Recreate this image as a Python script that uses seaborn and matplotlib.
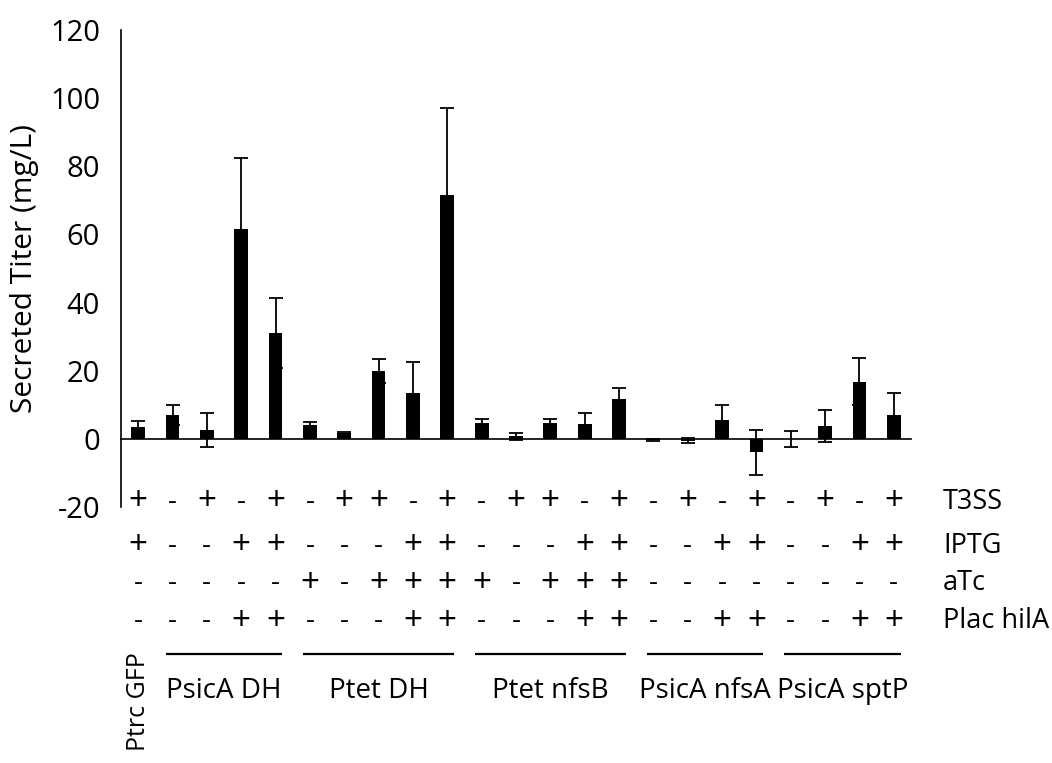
import matplotlib
matplotlib.use("Agg")
import matplotlib.pyplot as plt
import matplotlib.transforms as mtrans
import seaborn as sns
import pandas as pd
import numpy as np

# ---- data ----
values = [3.5, 7.0, 2.6, 61.5, 31.0,
          4.2, 1.6, 20.0, 13.5, 71.5,
          4.7, 0.7, 4.7, 4.5, 11.8,
          -0.3, -0.5, 5.5, -4.0,
          0.0, 3.8, 16.8, 7.0]
errors = [1.8, 3.0, 5.0, 21.0, 10.3,
          0.8, 0.3, 3.5, 9.0, 25.5,
          1.2, 1.0, 1.2, 3.0, 3.0,
          0.2, 0.7, 4.5, 6.5,
          2.3, 4.7, 7.0, 6.5]
t3ss = list("+-+-+-++-+-++-+-+-+-+-+")
iptg = list("+--++---++---++--++--++")
atc = list("-----+-++++-+++--------")
plac = list("---++---++---++--++--++")
row_labels = ["T3SS", "IPTG", "aTc", "Plac hilA"]
groups = ["PsicA DH", "Ptet DH", "Ptet nfsB", "PsicA nfsA", "PsicA sptP"]
group_first = [1, 5, 10, 15, 19]
group_last = [4, 9, 14, 18, 22]
single_label = "Ptrc GFP"
yticks = [-20, 0, 20, 40, 60, 80, 100, 120]

df = pd.DataFrame({"cond": list(range(len(values))), "titer": values, "err": errors})

sns.set_style("white")
FONT = ["Open Sans", "DejaVu Sans"]
plt.rcParams["font.family"] = FONT
plt.rcParams["text.color"] = "black"
plt.rcParams["axes.labelcolor"] = "black"
plt.rcParams["xtick.color"] = "black"
plt.rcParams["ytick.color"] = "black"

fig = plt.figure(figsize=(10.52, 7.63), dpi=100)
ax = fig.add_axes([121 / 1052, 1 - 507 / 763, (911 - 121) / 1052, (507 - 30) / 763])

sns.barplot(data=df, x="cond", y="titer", color="black", width=0.4,
            saturation=1, errorbar=None, ax=ax, edgecolor="black", linewidth=0)
ax.errorbar(df["cond"], df["titer"], yerr=df["err"], fmt="none",
            ecolor="black", elinewidth=1.3, capsize=4.7, capthick=1.3, zorder=1)

ax.set_xlim(-0.5, 22.5)
ax.set_ylim(-20, 120)
ax.set_yticks(yticks)
ax.set_yticklabels([str(t) for t in yticks], fontsize=21, color="black")
ax.set_xticks(np.arange(len(values)) + 0.5)
ax.set_xticklabels([])
ax.set_xlabel("")
ax.set_ylabel("Secreted Titer (mg/L)", fontsize=21.5, labelpad=8, color="black")

for s in ["top", "right"]:
    ax.spines[s].set_visible(False)
ax.spines["bottom"].set_position(("data", 0))
for s in ["left", "bottom"]:
    ax.spines[s].set_linewidth(1.2)
    ax.spines[s].set_color("black")
ax.tick_params(axis="y", direction="out", length=5, width=1.2, color="black",
               labelcolor="black", pad=10)
ax.tick_params(axis="x", direction="out", length=6, width=1.2, color="black")

# ---- sign table ----
trans = mtrans.blended_transform_factory(ax.transData, fig.transFigure)
row_y = [1 - 502 / 763, 1 - 546 / 763, 1 - 583 / 763, 1 - 621 / 763]
for rows, yy, lab in zip([t3ss, iptg, atc, plac], row_y, row_labels):
    for i, s in enumerate(rows):
        ax.text(i, yy, s, transform=trans, ha="center", va="center", color="black",
                fontsize=24 if s == "+" else 20, clip_on=False)
    fig.text(943 / 1052, yy, lab, ha="left", va="center", fontsize=19.5, color="black")

line_y = 1 - 654 / 763
label_y = 1 - 691 / 763
for g, a, b in zip(groups, group_first, group_last):
    ax.plot([a - 0.2, b + 0.2], [line_y, line_y], transform=trans, color="black",
            lw=1.6, clip_on=False, solid_capstyle="butt")
    ax.text((a + b) / 2, label_y, g, transform=trans, ha="center", va="center",
            fontsize=20, color="black")
ax.text(0, 1 - 652 / 763, single_label, transform=trans, ha="center", va="top",
        rotation=90, fontsize=18, color="black")

fig.savefig("out.png", dpi=100)
